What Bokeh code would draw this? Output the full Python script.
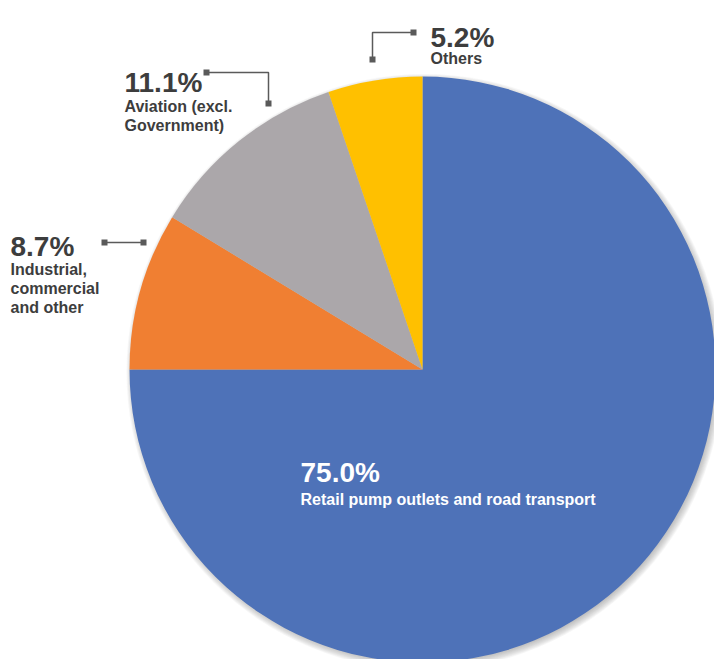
import math
from bokeh.plotting import figure
from bokeh.models import Range1d, ColumnDataSource
from bokeh.core.properties import value
from bokeh.embed import file_html
from bokeh.resources import INLINE

# ---- data ----
categories = ["Retail pump outlets and road transport", "Industrial, commercial and other",
              "Aviation (excl. Government)", "Others"]
shares = [75.0, 8.7, 11.1, 5.2]
colors = ["#4E72B8", "#F07F32", "#ABA7AA", "#FFC000"]
pct_labels = ["75.0%", "8.7%", "11.1%", "5.2%"]

W, H = 714, 659
SH = 659  # data y = SH - screen y


def Y(s):
    return SH - s


p = figure(width=W, height=H, output_backend="svg", toolbar_location=None,
           x_range=Range1d(0, W), y_range=Range1d(SH - H, SH),
           min_border=0, outline_line_color=None, background_fill_color="white",
           border_fill_color="white")
p.axis.visible = False
p.grid.visible = False

cx, cy, r = 422, Y(369), 293

# soft shadow
for i in range(9):
    p.circle(x=cx + 2, y=cy - 2.5, radius=r + 5 - i * 0.9, fill_color="#707070",
             fill_alpha=0.055, line_color=None)

# wedges: start at 12 o'clock, go clockwise
total = sum(shares)
starts, ends = [], []
cum = 0.0
for s in shares:
    a_hi = math.pi / 2 - 2 * math.pi * cum / total
    cum += s
    a_lo = math.pi / 2 - 2 * math.pi * cum / total
    starts.append(a_lo)
    ends.append(a_hi)
src = ColumnDataSource(dict(start=starts, end=ends, color=colors, cat=categories))
p.wedge(x=cx, y=cy, radius=r, start_angle="start", end_angle="end", direction="anticlock",
        fill_color="color", line_color=None, source=src)

TXT = "#3D3D3D"
LEAD = "#5A5A5A"
FONT = value("Liberation Sans")


def label(x, y_base, pct, lines, color=TXT, gap=24, lh=19):
    p.text(x=[x], y=[Y(y_base)], text=[pct], text_font=FONT, text_font_size="28px",
           text_font_style="bold", text_color=color, text_baseline="alphabetic",
           text_align="left")
    for k, ln in enumerate(lines):
        p.text(x=[x], y=[Y(y_base + gap + k * lh)], text=[ln], text_font=FONT,
               text_font_size="16px", text_font_style="bold", text_color=color,
               text_baseline="alphabetic", text_align="left")


def leader(xs, ys):
    p.line(x=xs, y=[Y(v) for v in ys], line_color=LEAD, line_width=1.5)
    p.scatter(x=[xs[0], xs[-1]], y=[Y(ys[0]), Y(ys[-1])], marker="square", size=6,
              fill_color=LEAD, line_color=None)


# labels
label(300, 472, pct_labels[0], [categories[0]], color="white", gap=27)
label(10, 246, pct_labels[1], ["Industrial,", "commercial", "and other"], gap=23)
label(124, 82, pct_labels[2], ["Aviation (excl.", "Government)"], gap=24)
label(430, 37, pct_labels[3], ["Others"], gap=21)

# leader lines
leader([104, 143], [242, 242])
leader([206, 268, 268], [72, 72, 103])
leader([413, 372, 372], [32, 32, 59])

open("out.html", "w").write(file_html(p, INLINE))
